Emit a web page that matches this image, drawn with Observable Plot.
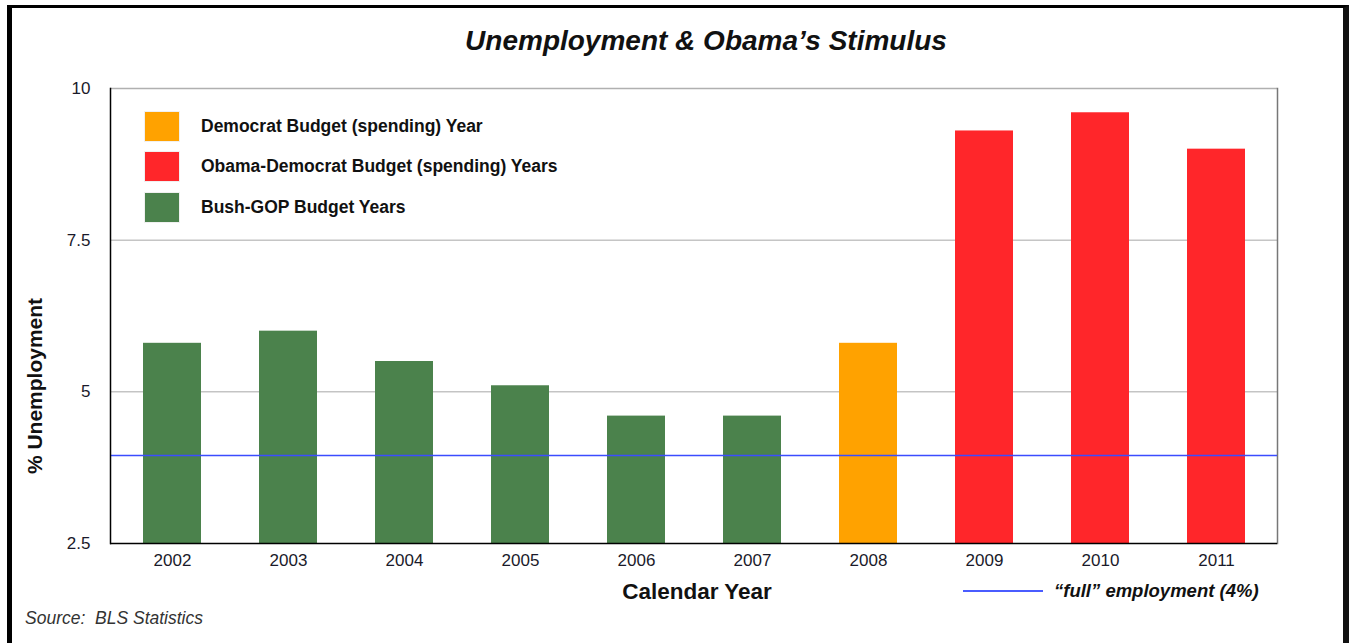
<!DOCTYPE html>
<html>
<head>
<meta charset="utf-8">
<script src="https://cdn.jsdelivr.net/npm/d3@7"></script>
<script src="https://cdn.jsdelivr.net/npm/@observablehq/plot@0.6"></script>
<style>
  html, body { margin: 0; padding: 0; background: #fff; }
  #wrap { position: relative; width: 1351px; height: 643px; overflow: hidden; background: #fff;
          font-family: "Liberation Sans", Arial, Helvetica, sans-serif; color: #111; }
  #border { position: absolute; left: 7px; top: 5px; width: 1331px; height: 700px;
            border-left: 5px solid #000; border-top: 3px solid #000; border-right: 6px solid #111; }
  #chart { position: absolute; left: 0; top: 0; }
  .abs { position: absolute; white-space: nowrap; }
  #title { left: 706px; top: 41px; transform: translate(-50%, -50%); font-size: 28px; font-weight: bold; font-style: italic; }
  #ylabel { left: 35px; top: 386px; transform: translate(-50%, -50%) rotate(-90deg); font-size: 21px; font-weight: bold; }
  #xlabel { left: 697px; top: 592px; transform: translate(-50%, -50%); font-size: 22.5px; font-weight: bold; }
  #source { left: 25px; top: 618px; transform: translateY(-50%); font-size: 17.5px; font-style: italic; color: #333; }
  #full { left: 963px; top: 591px; transform: translateY(-50%); display: flex; align-items: center; font-size: 18.5px; font-weight: bold; font-style: italic; }
  #full .ln { width: 80px; height: 0; border-top: 2px solid #4a5cff; margin-right: 11px; }
  #legend { left: 145px; top: 111px; }
  .item { display: flex; align-items: center; height: 30px; margin-bottom: 10.5px; font-size: 17.5px; font-weight: bold; }
  .sw { width: 34px; height: 29px; margin-right: 22px; box-shadow: 0 0 0 1px rgba(0,0,0,0.06); }
</style>
</head>
<body>
<div id="wrap">
  <div id="border"></div>
  <div id="chart"></div>
  <div id="title" class="abs">Unemployment &amp; Obama’s Stimulus</div>
  <div id="ylabel" class="abs">% Unemployment</div>
  <div id="xlabel" class="abs">Calendar Year</div>
  <div id="source" class="abs">Source:&nbsp; BLS Statistics</div>
  <div id="full" class="abs"><div class="ln"></div><span>“full” employment (4%)</span></div>
  <div id="legend" class="abs"></div>
</div>
<script>
// ---- data ----
const years = ["2002","2003","2004","2005","2006","2007","2008","2009","2010","2011"];
const unemployment = [5.8, 6.0, 5.5, 5.1, 4.6, 4.6, 5.8, 9.3, 9.6, 9.0];
const budget = ["Bush-GOP Budget Years","Bush-GOP Budget Years","Bush-GOP Budget Years","Bush-GOP Budget Years",
                "Bush-GOP Budget Years","Bush-GOP Budget Years","Democrat Budget (spending) Year",
                "Obama-Democrat Budget (spending) Years","Obama-Democrat Budget (spending) Years","Obama-Democrat Budget (spending) Years"];
const legendOrder = ["Democrat Budget (spending) Year", "Obama-Democrat Budget (spending) Years", "Bush-GOP Budget Years"];
const legendColors = ["#ffa200", "#ff262a", "#4b824c"];
const yTicks = [2.5, 5, 7.5, 10];
const gridTicks = [5, 7.5];
const fullEmployment = [3.95]; // "full" employment line as drawn (4%)

const table = years.map((y, i) => ({year: y, value: unemployment[i], budget: budget[i]}));
const base = yTicks[0];

const plot = Plot.plot({
  width: 1351,
  height: 643,
  marginLeft: 110,
  marginRight: 74,
  marginTop: 88,
  marginBottom: 100,
  style: {fontFamily: '"Liberation Sans", Arial, Helvetica, sans-serif', fontSize: "17px", color: "#1a1a2a", background: "transparent"},
  x: {domain: years, paddingInner: 0.5, paddingOuter: 0.25, label: null},
  y: {domain: [yTicks[0], yTicks[yTicks.length - 1]], label: null},
  color: {domain: legendOrder, range: legendColors},
  marks: [
    Plot.gridY(gridTicks, {stroke: "#a8a8a8", strokeOpacity: 1, strokeWidth: 1}),
    Plot.ruleY([yTicks[yTicks.length - 1]], {stroke: "#b0b0b0", strokeWidth: 1.5}),
    Plot.frame({anchor: "right", stroke: "#777", strokeWidth: 1.5}),
    Plot.barY(table, {x: "year", y1: base, y2: "value", fill: "budget"}),
    Plot.ruleY(fullEmployment, {stroke: "#3b4dff", strokeWidth: 1.5}),
    Plot.ruleY([base], {stroke: "#000", strokeWidth: 1.5}),
    Plot.frame({anchor: "left", stroke: "#000", strokeWidth: 1.5}),
    Plot.axisY({ticks: yTicks, tickFormat: d => String(d), tickSize: 0, tickPadding: 20, label: null, fontSize: 17}),
    Plot.axisX({tickSize: 0, tickPadding: 10, label: null, fontSize: 17})
  ]
});
document.getElementById("chart").appendChild(plot);

const legend = document.getElementById("legend");
legendOrder.forEach((name, i) => {
  const item = document.createElement("div");
  item.className = "item";
  const sw = document.createElement("div");
  sw.className = "sw";
  sw.style.background = legendColors[i];
  const label = document.createElement("span");
  label.textContent = name;
  item.appendChild(sw);
  item.appendChild(label);
  legend.appendChild(item);
});
</script>
</body>
</html>
